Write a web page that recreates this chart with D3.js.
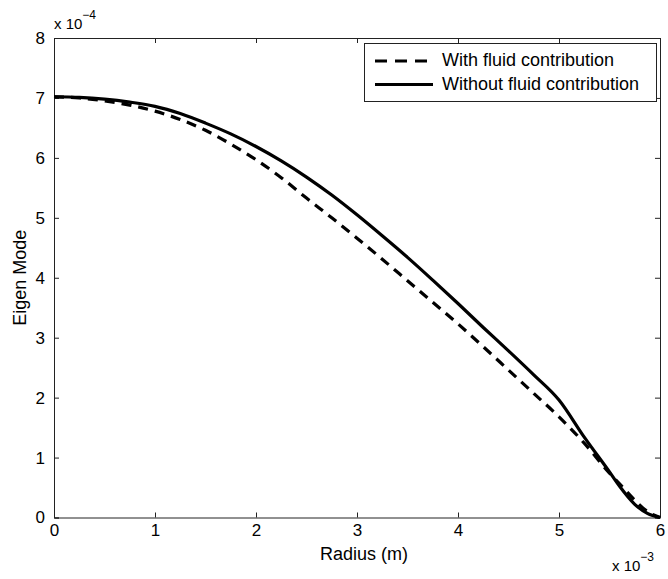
<!DOCTYPE html>
<html><head><meta charset="utf-8">
<script src="https://cdn.jsdelivr.net/npm/d3@7"></script>
<style>
body{margin:0;background:#fff;}
text{font-family:"Liberation Sans",Arial,Helvetica,sans-serif;fill:#000;}
</style></head>
<body><svg id="c" width="668" height="579"></svg>
<script>
const radius = [0,0.25,0.5,0.75,1,1.25,1.5,1.75,2,2.25,2.5,2.75,3,3.25,3.5,3.75,4,4.25,4.5,4.75,5,5.25,5.5,5.6,5.75,5.875,6];
const withFluid = [7.02,7.00,6.95,6.88,6.78,6.64,6.46,6.23,5.97,5.67,5.33,5.00,4.66,4.31,3.95,3.59,3.23,2.85,2.46,2.07,1.68,1.24,0.74,0.56,0.29,0.10,0];
const withoutFluid = [7.02,7.01,6.98,6.93,6.86,6.74,6.58,6.40,6.19,5.95,5.68,5.38,5.05,4.70,4.34,3.96,3.57,3.17,2.78,2.38,1.96,1.34,0.76,0.52,0.22,0.07,0];
const xTicks = [0,1,2,3,4,5,6];
const yTicks = [0,1,2,3,4,5,6,7,8];
const seriesNames = ["With fluid contribution","Without fluid contribution"];

const svg = d3.select("#c");
const L=54,R=660,T=38,B=517.5;
const x = d3.scaleLinear().domain([0,6]).range([L,R]);
const y = d3.scaleLinear().domain([0,8]).range([B,T]);

svg.append("rect").attr("x",L).attr("y",T).attr("width",R-L).attr("height",B-T).attr("fill","#fff");

const g = svg.append("g");
const fs = "17px";
const bx = g.append("g").attr("transform",`translate(0,${B})`).call(d3.axisBottom(x).tickValues(xTicks).tickSize(-5).tickPadding(6).tickFormat(d3.format("d")));
const tx = g.append("g").attr("transform",`translate(0,${T})`).call(d3.axisTop(x).tickValues(xTicks).tickSize(-5).tickFormat(""));
const ly = g.append("g").attr("transform",`translate(${L},0)`).call(d3.axisLeft(y).tickValues(yTicks).tickSize(-5).tickPadding(9).tickFormat(d3.format("d")));
const ry = g.append("g").attr("transform",`translate(${R},0)`).call(d3.axisRight(y).tickValues(yTicks).tickSize(-5).tickFormat(""));
[bx,tx,ly,ry].forEach(a=>{
  a.selectAll("path.domain").attr("stroke","#222").attr("stroke-width",1);
  a.selectAll(".tick line").attr("stroke","#222");
  a.selectAll("text").style("font-size",fs).style("font-family","Liberation Sans, Arial, sans-serif").attr("fill","#000");
});

const line = d3.line().x((d,i)=>x(radius[i])).y(d=>y(d)).curve(d3.curveMonotoneX);
svg.append("path").datum(withFluid).attr("d",line).attr("fill","none").attr("stroke","#000").attr("stroke-width",3.2).attr("stroke-dasharray","10,7");
svg.append("path").datum(withoutFluid).attr("d",line).attr("fill","none").attr("stroke","#000").attr("stroke-width",3.2);

// exponents
const e1 = svg.append("text").attr("x",54).attr("y",29).style("font-size","15px");
e1.append("tspan").text("x 10");
e1.append("tspan").attr("dy",-10).style("font-size","12px").text("−4");
const e2 = svg.append("text").attr("x",612).attr("y",571).style("font-size","15px");
e2.append("tspan").text("x 10");
e2.append("tspan").attr("dy",-10).style("font-size","12px").text("−3");

svg.append("text").attr("x",364).attr("y",560).attr("text-anchor","middle").style("font-size","18px").text("Radius (m)");
svg.append("text").attr("transform",`translate(26,${(T+B)/2}) rotate(-90)`).attr("text-anchor","middle").style("font-size","18px").text("Eigen Mode");

// legend
const lg = svg.append("g");
lg.append("rect").attr("x",364.5).attr("y",43.5).attr("width",292).attr("height",58).attr("fill","#fff").attr("stroke","#222").attr("stroke-width",1);
const rows=[{n:seriesNames[0],dash:"12,8",yy:61,by:66},{n:seriesNames[1],dash:null,yy:84.5,by:90}];
rows.forEach(r=>{
  const l = lg.append("line").attr("x1",375).attr("x2",433).attr("y1",r.yy).attr("y2",r.yy).attr("stroke","#000").attr("stroke-width",3.2);
  if(r.dash) l.attr("stroke-dasharray",r.dash);
  lg.append("text").attr("x",442).attr("y",r.by).style("font-size","18px").text(r.n);
});
</script></body></html>
